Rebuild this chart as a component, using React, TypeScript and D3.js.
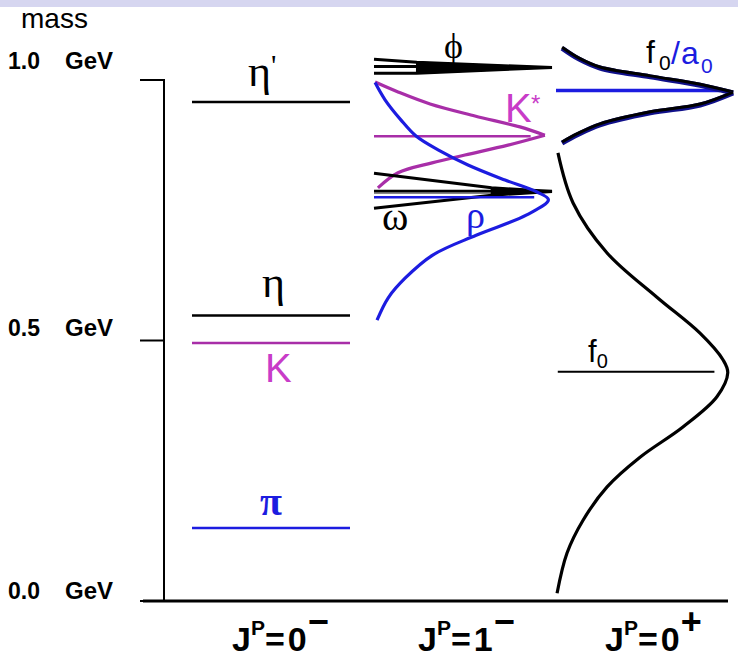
import React from "react";
import * as d3 from "d3";

// Mass axis (GeV)
const massTicks = [1.0, 0.5, 0.0];
const massTickLabels = ["1.0", "0.5", "0.0"];

// Spin-parity columns
const columnSpins = ["0", "1", "0"];
const columnParities = ["\u2212", "\u2212", "+"];

// J^P = 0^- states (GeV)
const pseudoscalarNames = ["eta'", "eta", "K", "pi"];
const pseudoscalarMasses = [0.958, 0.548, 0.495, 0.14];

// J^P = 1^- states (GeV)
const vectorNames = ["phi", "Kstar", "omega", "rho"];
const vectorMasses = [1.026, 0.892, 0.787, 0.775];

// J^P = 0^+ states (GeV)
const scalarNames = ["f0a0", "f0"];
const scalarMasses = [0.98, 0.44];

// Line shapes: [mass (GeV), relative intensity]
const rhoShape: [number, number][] = [
  [0.995, 0.006], [0.962, 0.062], [0.923, 0.152], [0.8925, 0.236], [0.866, 0.36],
  [0.837, 0.528], [0.808, 0.736], [0.785, 0.916], [0.770, 0.98], [0.741, 0.858],
  [0.702, 0.574], [0.664, 0.33], [0.62, 0.176], [0.582, 0.08], [0.539, 0.017],
];
const kStarShape: [number, number][] = [
  [0.996, 0.006], [0.977, 0.135], [0.954, 0.315], [0.931, 0.567], [0.910, 0.82],
  [0.894, 0.96], [0.875, 0.753], [0.856, 0.511], [0.841, 0.326], [0.822, 0.135],
  [0.793, 0.022],
];
const phiShape: [number, number][] = [
  [1.040, 0], [1.034, 0.24], [1.024, 1.0], [1.013, 0.24], [1.013, 0],
];
const omegaShape: [number, number][] = [
  [0.821, 0], [0.793, 0.66], [0.786, 1.0], [0.779, 0.66], [0.754, 0],
];
const f0a0Shape: [number, number][] = [
  [1.061, 0.034], [1.040, 0.13], [1.023, 0.247], [1.006, 0.53], [0.990, 0.81],
  [0.975, 0.995], [0.952, 0.81], [0.937, 0.53], [0.914, 0.247], [0.895, 0.12],
  [0.879, 0.034],
];
const sigmaShape: [number, number][] = [
  [0.860, 0.011], [0.764, 0.096], [0.668, 0.287], [0.583, 0.567], [0.514, 0.809],
  [0.463, 0.938], [0.438, 0.965], [0.392, 0.904], [0.334, 0.713], [0.276, 0.472],
  [0.219, 0.287], [0.155, 0.152], [0.092, 0.062], [0.015, 0.006],
];

const BLACK = "#000";
const MAGENTA = "#a82ea8";
const MAGENTA_TEXT = "#c83cc8";
const BLUE = "#1c1ce0";
const SANS = "'Liberation Sans', Arial, Helvetica, sans-serif";
const SERIF = "'Liberation Serif', 'DejaVu Serif', 'Times New Roman', serif";

const W = 738;
const H = 665;

const y = d3.scaleLinear().domain([0, 1]).range([601, 80]);
const colPS = d3.scaleLinear().domain([0, 1]).range([192, 350]);
const colV = d3.scaleLinear().domain([0, 1]).range([374, 552]);
const colS = d3.scaleLinear().domain([0, 1]).range([556, 734]);

type Pt = [number, number];

function shapePath(pts: Pt[], xs: d3.ScaleLinear<number, number>, curve: d3.CurveFactory) {
  return (
    d3
      .line<Pt>()
      .x((d) => xs(d[1]))
      .y((d) => y(d[0]))
      .curve(curve)(pts) || ""
  );
}

// Split a line shape at its peak so the tip stays pointed
function halves(pts: Pt[]): [Pt[], Pt[]] {
  const k = d3.maxIndex(pts, (d) => d[1]);
  return [pts.slice(0, k + 1), pts.slice(k)];
}

function NarrowShape({ pts, xs, core, color }: { pts: Pt[]; xs: d3.ScaleLinear<number, number>; core: number; color: string }) {
  const corePts = pts.filter((d) => d[1] >= core);
  return (
    <g>
      <path d={shapePath(pts, xs, d3.curveLinear)} fill="none" stroke={color} strokeWidth={3} strokeLinejoin="miter" />
      <path d={shapePath(corePts, xs, d3.curveLinear) + "Z"} fill={color} stroke={color} strokeWidth={1.5} />
    </g>
  );
}

function JPLabel({ x, spin, parity }: { x: number; spin: string; parity: string }) {
  return (
    <text x={x} y={651} fontFamily={SANS} fontWeight="bold" fontSize={34} fill={BLACK}>
      <tspan>J</tspan>
      <tspan fontSize={21} dy={-16}>P</tspan>
      <tspan dy={16}>=</tspan>
      <tspan dx={3}>{spin}</tspan>
      <tspan dy={-17} dx={1} fontSize={36}>{parity}</tspan>
    </text>
  );
}

export default function App() {
  const [kUp, kDown] = halves(kStarShape);
  const [fUp, fDown] = halves(f0a0Shape);
  const psColor = [BLACK, BLACK, MAGENTA, BLUE];
  const tickLabelLift = [11, 5, 2];

  return (
    <svg
      width={W}
      height={H}
      viewBox={`0 0 ${W} ${H}`}
      style={{ position: "absolute", left: 0, top: 0, background: "#fff" }}
    >
      <rect x={0} y={0} width={W} height={H} fill="#fff" />
      <rect x={0} y={0} width={W} height={7} fill="#d6d6f0" />

      {/* mass axis */}
      <text x={21} y={28} fontFamily={SANS} fontSize={28} fill={BLACK}>mass</text>
      <line x1={164} x2={164} y1={y(1.0)} y2={y(0)} stroke={BLACK} strokeWidth={2} />
      {massTicks.map((m, i) => (
        <g key={m}>
          <line x1={140} x2={165} y1={y(m)} y2={y(m)} stroke={BLACK} strokeWidth={2} />
          <text x={8} y={y(m) - tickLabelLift[i]} fontFamily={SANS} fontSize={23} fontWeight="bold" fill={BLACK}>
            {massTickLabels[i]}
          </text>
          <text x={113} y={y(m) - tickLabelLift[i]} textAnchor="end" fontFamily={SANS} fontSize={24} fontWeight="bold" fill={BLACK}>
            GeV
          </text>
        </g>
      ))}
      <line x1={143} x2={728} y1={y(0)} y2={y(0)} stroke={BLACK} strokeWidth={3} />

      {/* J^P = 0^- */}
      {pseudoscalarMasses.map((m, i) => (
        <line key={pseudoscalarNames[i]} x1={colPS(0)} x2={colPS(1)} y1={y(m)} y2={y(m)} stroke={psColor[i]} strokeWidth={2.5} />
      ))}
      <text x={248} y={y(pseudoscalarMasses[0]) - 16} fontFamily={SERIF} fontSize={44} fill={BLACK}>η</text>
      <text x={271} y={y(pseudoscalarMasses[0]) - 27} fontFamily={SERIF} fontSize={30} fill={BLACK}>'</text>
      <text x={262} y={y(pseudoscalarMasses[1]) - 18} fontFamily={SERIF} fontSize={44} fill={BLACK}>η</text>
      <text x={265} y={y(pseudoscalarMasses[2]) + 39} fontFamily={SANS} fontSize={40} fill={MAGENTA_TEXT}>K</text>
      <text x={260} y={y(pseudoscalarMasses[3]) - 13} fontFamily={SERIF} fontWeight="bold" fontSize={40} fill={BLUE}>π</text>

      {/* J^P = 1^- */}
      <line x1={colV(0)} x2={colV(0.3)} y1={y(vectorMasses[0])} y2={y(vectorMasses[0])} stroke={BLACK} strokeWidth={3} />
      <NarrowShape pts={phiShape} xs={colV} core={0.24} color={BLACK} />
      <path d={shapePath(kUp, colV, d3.curveCatmullRom)} fill="none" stroke={MAGENTA} strokeWidth={3.2} />
      <path d={shapePath(kDown, colV, d3.curveCatmullRom)} fill="none" stroke={MAGENTA} strokeWidth={3.2} />
      <line x1={colV(0)} x2={colV(0.88)} y1={y(vectorMasses[1])} y2={y(vectorMasses[1])} stroke={MAGENTA} strokeWidth={2.5} />
      <line x1={colV(0)} x2={colV(0.66)} y1={y(vectorMasses[2]) + 2} y2={y(vectorMasses[2]) + 2} stroke="#888" strokeWidth={2} />
      <line x1={colV(0)} x2={colV(1)} y1={y(vectorMasses[2])} y2={y(vectorMasses[2])} stroke={BLACK} strokeWidth={2.5} />
      <NarrowShape pts={omegaShape} xs={colV} core={0.66} color={BLACK} />
      <line x1={colV(0)} x2={colV(0.9)} y1={y(vectorMasses[3])} y2={y(vectorMasses[3])} stroke={BLUE} strokeWidth={2.5} />
      <path d={shapePath(rhoShape, colV, d3.curveCatmullRom)} fill="none" stroke={BLUE} strokeWidth={3.2} />
      <text x={444} y={58} fontFamily={SERIF} fontSize={36} fill={BLACK}>ϕ</text>
      <text x={505} y={y(vectorMasses[1]) - 14} fontFamily={SANS} fontSize={40} fill={MAGENTA_TEXT}>K</text>
      <text x={531} y={y(vectorMasses[1]) - 24} fontFamily={SANS} fontSize={24} fill={MAGENTA_TEXT}>*</text>
      <text x={382} y={y(vectorMasses[3]) + 33} fontFamily={SERIF} fontSize={40} fill={BLACK}>ω</text>
      <text x={466} y={y(vectorMasses[3]) + 31} fontFamily={SERIF} fontSize={38} fill={BLUE}>ρ</text>

      {/* J^P = 0^+ */}
      <line x1={colS(0)} x2={colS(0.92)} y1={y(scalarMasses[0])} y2={y(scalarMasses[0])} stroke={BLUE} strokeWidth={3.5} />
      {[fUp, fDown].map((half, i) => (
        <g key={i}>
          <path d={shapePath(half, colS, d3.curveCatmullRom)} fill="none" stroke="#10108a" strokeWidth={5} />
          <path d={shapePath(half, colS, d3.curveCatmullRom)} fill="none" stroke={BLACK} strokeWidth={3} transform="translate(0,-1)" />
        </g>
      ))}
      <line x1={colS(0.01)} x2={colS(0.89)} y1={y(scalarMasses[1])} y2={y(scalarMasses[1])} stroke={BLACK} strokeWidth={2} />
      <path d={shapePath(sigmaShape, colS, d3.curveCatmullRom)} fill="none" stroke={BLACK} strokeWidth={3.2} />
      <g fontFamily={SANS}>
        <text x={646} y={63} fontSize={32} fill={BLACK}>f</text>
        <text x={659} y={70} fontSize={21} fill={BLACK}>0</text>
        <text x={671} y={64} fontSize={32} fill={BLUE}>/</text>
        <text x={681} y={64} fontSize={32} fill={BLUE}>a</text>
        <text x={701} y={73} fontSize={21} fill={BLUE}>0</text>
      </g>
      <text x={588} y={y(scalarMasses[1]) - 10} fontFamily={SANS} fontSize={31} fill={BLACK}>
        f<tspan fontSize={20} dy={6}>0</tspan>
      </text>

      {columnSpins.map((s, i) => (
        <JPLabel key={i} x={[232, 418, 605][i]} spin={s} parity={columnParities[i]} />
      ))}
    </svg>
  );
}
